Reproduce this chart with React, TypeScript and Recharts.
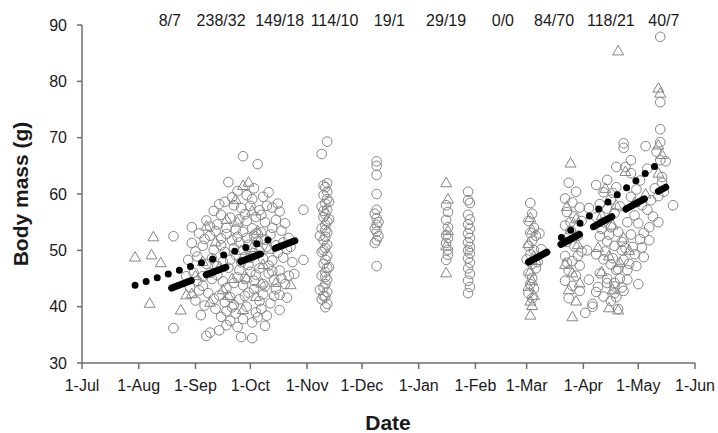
import { ScatterChart, Scatter, XAxis, YAxis } from "recharts";

const monthTicks = [0, 31, 62, 92, 123, 153, 184, 215, 243, 274, 304, 335];
const monthLabels = ["1-Jul", "1-Aug", "1-Sep", "1-Oct", "1-Nov", "1-Dec", "1-Jan", "1-Feb", "1-Mar", "1-Apr", "1-May", "1-Jun"];
const countDays = [48, 76, 108, 138, 168, 199, 230, 258, 289, 318];
const countLabels = ["8/7", "238/32", "149/18", "114/10", "19/1", "29/19", "0/0", "84/70", "118/21", "40/7"];
const massTicks = [30, 40, 50, 60, 70, 80, 90];

// [day since 1-Jul, body mass g]
const summerCircles = [[50, 52.5], [60, 54.1], [50, 36.2]];
const summerTriangles = [[29, 48.8], [38, 49.2], [43, 47.8], [39, 52.4], [37, 40.6], [54, 39.4], [57, 42.1]];

const autumnCircles = [
  [80, 62.1], [88, 66.7], [96, 65.3], [85, 60.5], [90, 59.8], [94, 61.0], [99, 59.5], [102, 60.3], [78, 58.6], [83, 58.0],
  [87, 57.5], [92, 57.9], [97, 57.1], [104, 57.6], [108, 56.9], [72, 57.0], [76, 56.3], [81, 55.8], [86, 55.5], [90, 55.2],
  [95, 55.9], [100, 55.0], [106, 55.4], [111, 54.8], [68, 55.3], [74, 54.6], [79, 54.0], [84, 53.7], [88, 53.3], [93, 53.9],
  [98, 53.2], [103, 52.8], [109, 53.5], [113, 52.2], [64, 53.0], [70, 52.6], [76, 52.1], [82, 51.8], [86, 51.4], [91, 51.0],
  [96, 51.6], [101, 50.6], [106, 50.9], [112, 50.2], [60, 51.3], [66, 50.8], [72, 50.1], [78, 49.7], [84, 49.2], [89, 48.8],
  [94, 49.5], [99, 48.5], [104, 48.2], [110, 48.7], [115, 47.9], [58, 48.3], [63, 48.9], [68, 47.6], [74, 47.2], [80, 46.9],
  [86, 46.5], [92, 46.2], [97, 46.8], [102, 45.9], [108, 46.4], [113, 45.5], [61, 46.0], [66, 45.4], [71, 44.9], [77, 44.5],
  [83, 44.2], [88, 43.8], [94, 44.6], [100, 43.6], [106, 43.1], [111, 44.0], [59, 43.4], [64, 42.9], [69, 42.4], [75, 42.0],
  [81, 41.7], [86, 41.3], [91, 42.5], [97, 41.0], [103, 40.6], [108, 42.1], [108, 39.4], [62, 41.1], [67, 40.2], [73, 39.6],
  [79, 39.2], [84, 38.8], [90, 40.0], [95, 39.0], [101, 38.4], [65, 38.5], [70, 35.4], [79, 36.7], [85, 36.4], [93, 37.2],
  [100, 36.6], [75, 35.8], [68, 34.8], [87, 34.6], [93, 34.4], [81, 37.5], [121, 57.2], [121, 48.3], [73, 53.4], [91, 47.4],
  [105, 44.8], [77, 48.0], [95, 53.0], [83, 50.4], [70, 46.0], [99, 42.2],
  [75, 58.2], [82, 59.4], [89, 56.4], [93, 59.1], [98, 56.3], [101, 57.9], [107, 58.3], [79, 52.9], [85, 52.4], [90, 52.2],
  [94, 52.6], [100, 51.9], [104, 54.0], [110, 51.4], [71, 48.6], [76, 50.9], [81, 48.3], [87, 47.9], [92, 48.7], [97, 49.9],
  [102, 47.3], [107, 49.6], [114, 50.6], [74, 45.6], [79, 43.3], [85, 45.2], [89, 44.9], [95, 45.7], [99, 44.0], [104, 46.3],
  [109, 45.0], [66, 43.7], [72, 41.4], [78, 40.8], [83, 40.3], [89, 41.9], [94, 43.1], [98, 39.6], [105, 41.9], [63, 44.6],
  [76, 38.2], [82, 39.9], [88, 37.8], [96, 38.1], [112, 41.6], [116, 45.8], [67, 52.0], [62, 49.8], [57, 45.4], [70, 54.2],
];
const autumnTriangles = [
  [68, 54.3], [91, 62.1], [88, 61.5], [84, 59.0], [93, 57.0], [79, 55.5], [96, 53.5], [73, 51.5], [87, 50.0], [99, 47.5],
  [62, 45.5], [106, 44.3], [114, 43.9], [82, 45.0], [77, 43.0], [95, 41.8], [70, 40.8], [88, 39.5], [60, 42.3],
  [75, 47.0], [90, 45.1], [102, 50.2], [80, 42.0], [66, 48.0], [93, 50.5], [85, 55.0], [98, 44.2],
];

const novCircles = [
  [134, 69.3], [131, 67.1], [134, 61.9], [133, 61.2], [134, 60.4], [132, 59.8], [134, 59.1], [133, 58.3], [131, 57.8], [134, 57.2],
  [133, 56.4], [132, 55.9], [134, 55.1], [133, 54.5], [131, 53.9], [134, 53.2], [133, 52.4], [132, 51.8], [134, 51.0], [133, 50.4],
  [131, 49.7], [134, 49.0], [133, 48.3], [132, 47.6], [134, 46.9], [133, 46.1], [131, 45.5], [134, 44.8], [133, 44.0], [132, 43.4],
  [134, 42.6], [133, 41.8], [131, 41.3], [134, 40.5], [133, 39.9], [135, 58.6], [135, 55.5], [135, 47.0], [130, 52.6], [130, 43.0],
  [132, 61.5], [132, 57.0], [133, 53.6], [132, 50.0], [133, 45.3], [132, 41.9],
];

const decCircles = [
  [161, 65.8], [161, 65.0], [161, 63.4], [161, 60.0], [161, 57.2], [160, 56.5], [161, 55.7], [162, 55.0], [161, 54.5], [160, 53.8],
  [161, 53.3], [162, 52.5], [161, 51.8], [160, 51.3], [161, 47.2],
];

const winterCircles = [
  [199, 58.0], [200, 56.8], [199, 55.4], [200, 54.1], [199, 52.7], [200, 52.2], [199, 51.3], [200, 50.1], [199, 48.3], [200, 49.2],
  [211, 60.4], [211, 58.9], [212, 58.4], [211, 56.3], [212, 55.5], [211, 54.6], [212, 53.8], [211, 53.0], [212, 52.2], [211, 51.4],
  [212, 50.6], [211, 50.0], [212, 49.5], [211, 48.6], [212, 47.8], [211, 46.8], [212, 45.8], [211, 44.6], [212, 43.5], [211, 42.4],
];
const winterTriangles = [[199, 62.0], [200, 59.1], [199, 46.0], [200, 53.5], [199, 50.8]];

const springCircles = [
  [245, 58.4], [246, 56.5], [244, 55.2], [247, 54.0], [245, 53.1], [248, 52.6], [246, 51.7], [244, 50.8], [247, 50.0], [245, 49.3],
  [243, 48.4], [246, 47.6], [248, 46.8], [244, 45.9], [246, 45.1], [245, 44.0], [247, 43.2], [244, 42.4], [246, 41.5], [250, 53.0],
  [251, 50.2], [249, 47.9],
  [266, 62.0], [270, 60.4], [264, 59.2], [268, 58.5], [272, 57.6], [265, 56.8], [269, 56.0], [273, 55.2], [264, 54.4], [267, 53.5],
  [271, 52.6], [265, 51.5], [269, 50.7], [273, 49.8], [264, 49.0], [268, 48.1], [272, 47.3], [266, 46.4], [270, 45.5], [264, 44.6],
  [268, 43.7], [272, 42.8], [266, 41.5], [275, 38.9], [279, 40.5], [277, 44.8], [276, 50.0], [277, 57.5],
  [281, 61.6], [285, 60.3], [289, 59.0], [283, 58.2], [287, 57.4], [291, 56.6], [281, 55.9], [285, 55.0], [289, 54.1], [293, 53.3],
  [283, 52.5], [287, 51.6], [291, 50.8], [295, 50.0], [281, 49.3], [285, 48.4], [289, 47.5], [293, 46.7], [283, 45.9], [287, 45.0],
  [291, 44.2], [295, 43.4], [281, 42.6], [285, 41.8], [289, 41.0], [279, 40.0], [293, 39.6], [282, 43.5],
  [296, 69.0], [296, 68.2], [308, 68.5], [292, 64.8], [297, 64.8], [300, 63.7], [287, 62.5], [292, 61.2], [290, 60.2], [300, 59.5],
  [309, 57.2], [311, 58.9], [317, 63.0], [317, 62.0], [316, 66.0], [314, 67.5], [323, 58.0], [310, 54.1], [307, 53.1], [310, 51.8],
  [307, 48.8], [301, 50.6], [296, 48.3], [292, 46.5], [298, 46.5], [287, 44.2], [291, 42.4], [291, 43.6], [292, 41.7], [316, 87.9],
  [316, 76.3], [316, 71.5], [316, 69.2], [303, 60.8], [306, 58.0], [302, 56.2], [298, 55.0], [304, 54.8], [312, 56.0], [315, 59.6],
  [318, 60.4], [313, 61.0], [300, 52.8], [295, 51.5], [303, 47.2], [298, 44.8], [294, 57.8], [305, 62.4], [309, 64.5], [319, 65.8],
  [315, 55.0], [300, 66.0],
  [267, 55.0], [271, 49.0], [265, 47.8], [284, 53.8], [288, 52.8], [286, 49.8], [290, 48.6], [294, 45.0], [305, 52.0], [302, 49.3],
  [306, 50.5], [299, 47.6], [297, 50.4], [304, 44.0], [296, 42.8],
];
const springTriangles = [
  [245, 55.8], [246, 53.6], [244, 51.2], [247, 49.0], [245, 46.3], [246, 44.6], [244, 43.6], [247, 42.0], [245, 41.0], [246, 40.2],
  [245, 38.5], [248, 48.2],
  [267, 65.5], [265, 57.8], [270, 55.6], [266, 53.0], [271, 51.0], [264, 47.5], [268, 46.0], [272, 44.2], [266, 43.0], [270, 41.0],
  [268, 38.2],
  [286, 61.0], [292, 58.0], [284, 56.2], [290, 54.5], [296, 52.2], [282, 50.5], [288, 49.0], [294, 47.8], [284, 46.2], [290, 43.0],
  [288, 39.8], [293, 39.4],
  [293, 85.4], [315, 78.8], [316, 77.9], [315, 68.7], [297, 64.0], [315, 63.7], [302, 58.5], [308, 60.0], [317, 67.0], [299, 50.0],
];

// fitted trend lines (start, end)
const dottedAutumn = [[29, 43.8], [105, 52.2]];
const dashedAutumn = [[49, 43.3], [122, 52.4]];
const dottedSpring = [[262, 52.3], [315, 65.4]];
const dashedSpring = [[244, 47.9], [319, 61.2]];

const GREY = "#868686";
const AXIS = "#6e6e6e";
const FONT = "'Liberation Sans', Arial, sans-serif";

const toPoints = (rows: number[][]) => rows.map(([day, mass]) => ({ day, mass }));
// sample counts sit on the top edge of the plot, one per month
const countPoints = countDays.map((day, i) => ({ day, mass: 90, label: countLabels[i] }));

const OpenCircle = (props: any) => (
  <circle cx={props.cx} cy={props.cy} r={4.8} fill="none" stroke={GREY} strokeWidth={1} />
);

const OpenTriangle = (props: any) => {
  const { cx, cy } = props;
  return (
    <path
      d={`M${cx},${cy - 5.5}L${cx + 5.5},${cy + 4}L${cx - 5.5},${cy + 4}Z`}
      fill="none"
      stroke={GREY}
      strokeWidth={1}
    />
  );
};

const CountLabel = (props: any) => (
  <text x={props.cx} y={props.cy + 1} textAnchor="middle" fontSize={16} fontFamily={FONT} fill="#1a1a1a">
    {props.payload.label}
  </text>
);

const NoMark = () => <g />;

const dotted = { stroke: "#000", strokeWidth: 7, strokeDasharray: "0 11.7", strokeLinecap: "round" as const };
const dashed = { stroke: "#000", strokeWidth: 7, strokeDasharray: "21 16", strokeLinecap: "round" as const };

export default function App() {
  const circles = [summerCircles, autumnCircles, novCircles, decCircles, winterCircles, springCircles];
  const triangles = [summerTriangles, autumnTriangles, winterTriangles, springTriangles];
  return (
    <div style={{ position: "absolute", left: 0, top: 0, background: "#fff" }}>
      <ScatterChart width={718} height={433} margin={{ top: 25, right: 23, bottom: 0, left: 0 }}>
        <XAxis
          type="number"
          dataKey="day"
          domain={[0, 335]}
          ticks={monthTicks}
          interval={0}
          height={70}
          tickFormatter={(v: number) => monthLabels[monthTicks.indexOf(v)]}
          stroke={AXIS}
          strokeWidth={1.5}
          tickSize={6}
          tickMargin={11}
          tick={{ fill: "#1a1a1a", fontSize: 16, fontFamily: FONT }}
        />
        <YAxis
          type="number"
          dataKey="mass"
          domain={[30, 90]}
          ticks={massTicks}
          interval={0}
          width={82}
          stroke={AXIS}
          strokeWidth={1.5}
          tickSize={5}
          tickMargin={10}
          tick={{ fill: "#1a1a1a", fontSize: 16, fontFamily: FONT }}
        />
        {circles.map((rows, i) => (
          <Scatter key={`c${i}`} data={toPoints(rows)} shape={OpenCircle} isAnimationActive={false} />
        ))}
        {triangles.map((rows, i) => (
          <Scatter key={`t${i}`} data={toPoints(rows)} shape={OpenTriangle} isAnimationActive={false} />
        ))}
        <Scatter data={toPoints(dottedAutumn)} line={dotted} shape={NoMark} isAnimationActive={false} />
        <Scatter data={toPoints(dashedAutumn)} line={dashed} shape={NoMark} isAnimationActive={false} />
        <Scatter data={toPoints(dottedSpring)} line={dotted} shape={NoMark} isAnimationActive={false} />
        <Scatter data={toPoints(dashedSpring)} line={dashed} shape={NoMark} isAnimationActive={false} />
        <Scatter data={countPoints} shape={CountLabel} isAnimationActive={false} />
        <text
          transform="rotate(-90)"
          x={-194}
          y={28}
          textAnchor="middle"
          fontSize={21}
          fontWeight="bold"
          fontFamily={FONT}
          fill="#1a1a1a"
        >
          Body mass (g)
        </text>
        <text x={388} y={430} textAnchor="middle" fontSize={21} fontWeight="bold" fontFamily={FONT} fill="#1a1a1a">
          Date
        </text>
      </ScatterChart>
    </div>
  );
}
